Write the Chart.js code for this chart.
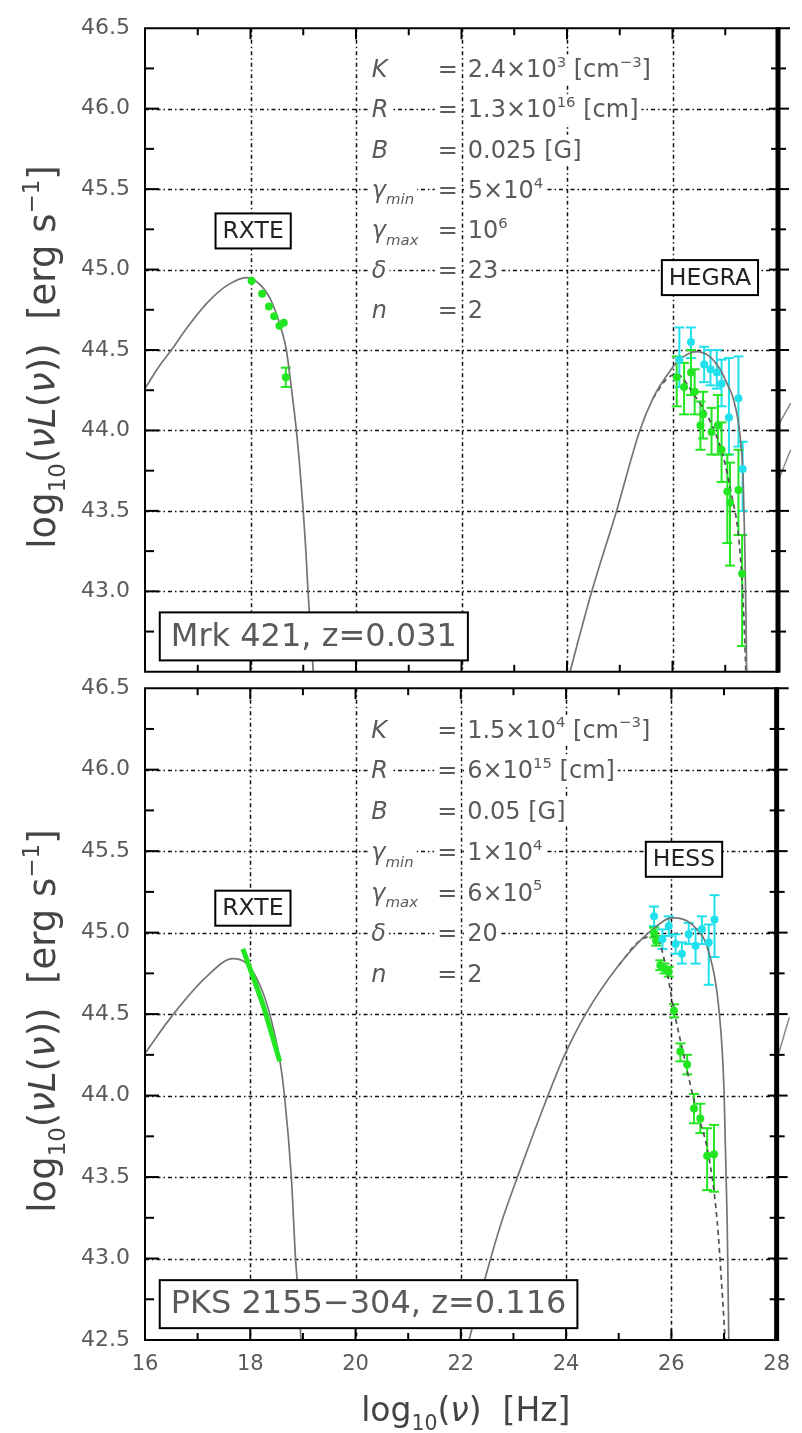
<!DOCTYPE html>
<html>
<head>
<meta charset="utf-8">
<script src="https://cdn.jsdelivr.net/npm/chart.js@4.4.1/dist/chart.umd.min.js"></script>
<style>
  body { margin: 0; background: #fff; width: 802px; height: 1433px; overflow: hidden; position: relative; }
  canvas { position: absolute; left: 0; }
  #topChart { top: 0; }
  #bottomChart { top: 660px; }
</style>
</head>
<body>
<canvas id="topChart" width="802" height="700"></canvas>
<canvas id="bottomChart" width="802" height="773"></canvas>
<script>
const FONT = '"DejaVu Sans", "Liberation Sans", sans-serif';
const TXT = '#5a5a5a';
const GREEN = 'rgb(34,230,34)';
const CYAN = 'rgb(32,224,236)';

// axes
const xTicks = [16, 18, 20, 22, 24, 26, 28];
const xMinor = [17, 18, 19, 20, 21, 22, 23, 24, 25, 26, 27];
const xGrid = [18, 20, 22, 24, 26];
const yTicks = [42.5, 43.0, 43.5, 44.0, 44.5, 45.0, 45.5, 46.0, 46.5];
const yMinor = [42.75, 43.0, 43.25, 43.5, 43.75, 44.0, 44.25, 44.5, 44.75, 45.0, 45.25, 45.5, 45.75, 46.0, 46.25];
const yGrid = [43.0, 43.5, 44.0, 44.5, 45.0, 45.5, 46.0];

// Mrk 421: SSC model curves
const mrkSyncNu = [16.0, 16.25, 16.5, 16.8, 17.17, 17.55, 17.93, 18.2, 18.4, 18.61, 18.68, 18.78, 18.87, 18.94, 19.0, 19.05, 19.09, 19.14, 19.19, 19.22];
const mrkSyncL = [44.26, 44.39, 44.50, 44.64, 44.79, 44.90, 44.95, 44.90, 44.80, 44.60, 44.50, 44.25, 44.00, 43.75, 43.50, 43.25, 43.00, 42.75, 42.50, 42.35];
const mrkIcNu = [24.0, 24.47, 24.94, 25.38, 25.63, 25.89, 26.1, 26.46, 26.7, 26.9, 27.05, 27.15, 27.28, 27.34, 27.37, 27.39, 27.41];
const mrkIcL = [42.43, 43.0, 43.5, 44.0, 44.2, 44.34, 44.43, 44.49, 44.46, 44.38, 44.28, 44.2, 43.97, 43.69, 43.29, 42.9, 42.4];
const mrkAbsNu = [25.63, 25.89, 26.08, 26.39, 26.71, 26.95, 27.12, 27.25, 27.33, 27.37, 27.40];
const mrkAbsL = [44.2, 44.32, 44.35, 44.23, 44.06, 43.85, 43.6, 43.35, 43.0, 42.7, 42.4];

// Mrk 421: RXTE and HEGRA data
const mrkRxteNu = [18.02, 18.22, 18.35, 18.45, 18.55, 18.63, 18.67];
const mrkRxteL = [44.93, 44.85, 44.77, 44.71, 44.65, 44.67, 44.33];
const mrkRxteLo = [44.91, 44.83, 44.75, 44.69, 44.63, 44.65, 44.27];
const mrkRxteHi = [44.95, 44.87, 44.79, 44.73, 44.67, 44.69, 44.39];
const mrkObsNu = [26.08, 26.22, 26.35, 26.42, 26.53, 26.58, 26.74, 26.86, 26.93, 27.04, 27.09, 27.25, 27.32];
const mrkObsL = [44.33, 44.27, 44.36, 44.24, 44.03, 44.10, 43.99, 44.03, 43.88, 43.62, 43.55, 43.63, 43.11];
const mrkObsLo = [44.15, 44.10, 44.22, 44.10, 43.88, 43.95, 43.85, 43.85, 43.68, 43.30, 43.16, 43.35, 42.66];
const mrkObsHi = [44.46, 44.42, 44.50, 44.38, 44.18, 44.24, 44.14, 44.22, 44.05, 43.85, 43.80, 43.88, 43.35];
const mrkDeabsNu = [26.13, 26.35, 26.60, 26.72, 26.84, 26.93, 27.07, 27.25, 27.33];
const mrkDeabsL = [44.44, 44.55, 44.41, 44.38, 44.36, 44.29, 44.08, 44.20, 43.76];
const mrkDeabsLo = [44.27, 44.45, 44.30, 44.28, 44.26, 44.15, 43.85, 43.90, 43.50];
const mrkDeabsHi = [44.64, 44.64, 44.52, 44.50, 44.50, 44.44, 44.45, 44.46, 43.93];

// PKS 2155-304: SSC model curves
const pksSyncNu = [16.0, 16.54, 17.17, 17.67, 17.93, 18.18, 18.37, 18.56, 18.65, 18.78, 18.86, 18.93, 18.97];
const pksSyncL = [44.26, 44.50, 44.73, 44.84, 44.81, 44.68, 44.50, 44.22, 44.00, 43.50, 43.00, 42.70, 42.45];
const pksIcNu = [22.1, 22.48, 22.75, 23.11, 23.62, 23.96, 24.37, 25.0, 25.64, 26.02, 26.39, 26.71, 26.9, 27.0, 27.06, 27.09, 27.1];
const pksIcL = [42.43, 42.9, 43.2, 43.53, 43.97, 44.24, 44.5, 44.8, 45.02, 45.09, 45.05, 44.88, 44.54, 44.04, 43.23, 42.52, 42.3];
const pksAbsNu = [25.0, 25.4, 25.70, 25.89, 26.05, 26.24, 26.46, 26.71, 26.87, 26.96, 27.04];
const pksAbsL = [44.8, 44.95, 44.98, 44.80, 44.52, 44.24, 43.93, 43.63, 43.23, 42.82, 42.4];

// PKS 2155-304: RXTE spectrum and HESS data
const pksRxteNu = [17.86, 18.24, 18.56];
const pksRxteL = [44.90, 44.56, 44.21];
const pksObsNu = [25.67, 25.71, 25.79, 25.87, 25.95, 26.05, 26.17, 26.30, 26.43, 26.55, 26.68, 26.81];
const pksObsL = [45.00, 44.95, 44.80, 44.78, 44.76, 44.52, 44.27, 44.19, 43.92, 43.86, 43.63, 43.64];
const pksObsLo = [44.97, 44.92, 44.77, 44.75, 44.73, 44.48, 44.21, 44.13, 43.83, 43.77, 43.42, 43.41];
const pksObsHi = [45.03, 44.98, 44.83, 44.81, 44.79, 44.56, 44.32, 44.25, 44.01, 43.95, 43.80, 43.82];
const pksDeabsNu = [25.67, 25.83, 25.95, 26.08, 26.20, 26.33, 26.46, 26.58, 26.71, 26.82];
const pksDeabsL = [45.10, 44.96, 45.04, 44.93, 44.87, 44.99, 44.92, 45.02, 44.94, 45.08];
const pksDeabsLo = [45.04, 44.90, 44.98, 44.87, 44.81, 44.93, 44.81, 44.93, 44.68, 44.85];
const pksDeabsHi = [45.16, 45.02, 45.10, 44.99, 44.94, 45.06, 45.02, 45.10, 45.05, 45.23];

// curve pieces of the neighbouring panel, just past the right frame
const mrkSideNu = [[28.02, 28.24], [28.02, 28.24]];
const mrkSideL = [[44.04, 44.17], [43.70, 43.88]];
const pksSideNu = [[28.04, 28.24]];
const pksSideL = [[44.26, 44.48]];

// model parameters, printed as rich text: [text, kind]
const symRows = [
  [['K', 'i']], [['R', 'i']], [['B', 'i']],
  [['γ', 'i'], ['min', 'isub']], [['γ', 'i'], ['max', 'isub']],
  [['δ', 'i']], [['n', 'i']]
];
const mrkValues = [
  [['2.4×10', 'n'], ['3', 'sup'], [' [cm', 'n'], ['−3', 'sup'], [']', 'n']],
  [['1.3×10', 'n'], ['16', 'sup'], [' [cm]', 'n']],
  [['0.025 [G]', 'n']],
  [['5×10', 'n'], ['4', 'sup']],
  [['10', 'n'], ['6', 'sup']],
  [['23', 'n']],
  [['2', 'n']]
];
const pksValues = [
  [['1.5×10', 'n'], ['4', 'sup'], [' [cm', 'n'], ['−3', 'sup'], [']', 'n']],
  [['6×10', 'n'], ['15', 'sup'], [' [cm]', 'n']],
  [['0.05 [G]', 'n']],
  [['1×10', 'n'], ['4', 'sup']],
  [['6×10', 'n'], ['5', 'sup']],
  [['20', 'n']],
  [['2', 'n']]
];
const paramRowsL = [46.25, 46.0, 45.75, 45.5, 45.25, 45.0, 44.75];

function pts(nu, L) {
  return nu.map((v, i) => ({ x: v, y: L[i] }));
}

function curve(nu, L, dashed) {
  return {
    data: pts(nu, L),
    borderColor: dashed ? '#505050' : '#747474',
    borderWidth: 1.7,
    borderDash: dashed ? [5, 4] : [],
    pointRadius: 0,
    cubicInterpolationMode: 'monotone',
    fill: false,
    order: 3
  };
}

function points(nu, L, lo, hi, color, r) {
  return {
    data: pts(nu, L),
    showLine: false,
    pointRadius: r,
    pointStyle: 'circle',
    backgroundColor: color,
    borderColor: color,
    borderWidth: 0,
    errLo: lo,
    errHi: hi,
    order: 1
  };
}

function seg(ctx, x0, y0, x1, y1) {
  ctx.beginPath();
  ctx.moveTo(x0, y0);
  ctx.lineTo(x1, y1);
  ctx.stroke();
}

// measure and draw a run of text pieces with sub/superscripts
function richSpecs(ctx, parts, size) {
  return parts.map(([t, k]) => {
    const small = k === 'sup' || k === 'sub' || k === 'isub';
    const fs = small ? size * 0.62 : size;
    const font = (k === 'i' || k === 'isub' ? 'italic ' : '') + fs + 'px ' + FONT;
    const dy = k === 'sup' ? -size * 0.42 : small ? size * 0.28 : 0;
    ctx.font = font;
    return { t, font, dy, w: ctx.measureText(t).width };
  });
}

function drawRich(ctx, parts, x, y, size, align, bg) {
  const specs = richSpecs(ctx, parts, size);
  const total = specs.reduce((s, p) => s + p.w, 0);
  let cx = align === 'center' ? x - total / 2 : x;
  if (bg) {
    ctx.fillStyle = '#fff';
    ctx.fillRect(cx - 3, y - size * 0.95, total + 6, size * 1.25);
  }
  ctx.fillStyle = ctx._richColor || TXT;
  ctx.textAlign = 'left';
  ctx.textBaseline = 'alphabetic';
  specs.forEach(p => {
    ctx.font = p.font;
    ctx.fillText(p.t, cx, y + p.dy);
    cx += p.w;
  });
  return total;
}

function drawBox(ctx, text, x, y, size, align, color, padX, h) {
  ctx.font = size + 'px ' + FONT;
  const w = ctx.measureText(text).width + 2 * padX;
  const left = align === 'left' ? x : x - w / 2;
  const top = y - h / 2;
  ctx.fillStyle = '#fff';
  ctx.fillRect(left, top, w, h);
  ctx.lineWidth = 2;
  ctx.strokeStyle = '#000';
  ctx.strokeRect(left, top, w, h);
  ctx.fillStyle = color;
  ctx.textAlign = 'left';
  ctx.textBaseline = 'middle';
  ctx.fillText(text, left + padX, y + 1);
}

const yTitle = [['log', 'n'], ['10', 'sub'], ['(', 'n'], ['ν', 'i'], ['L', 'i'], ['(', 'n'], ['ν', 'i'], ['))', 'n'], ['  [erg s', 'n'], ['−1', 'sup'], [']', 'n']];
const xTitle = [['log', 'n'], ['10', 'sub'], ['(', 'n'], ['ν', 'i'], [')', 'n'], ['  [Hz]', 'n']];

function decorPlugin(panel) {
  return {
    id: 'decor',
    beforeDatasetsDraw(chart) {
      const { ctx, chartArea: a, scales: { x, y } } = chart;
      ctx.save();
      ctx.strokeStyle = '#111';
      ctx.lineWidth = 1.5;
      ctx.setLineDash([4, 3, 1.5, 3]);
      xGrid.forEach(v => {
        const px = Math.round(x.getPixelForValue(v)) + 0.5;
        seg(ctx, px, a.top, px, a.bottom);
      });
      yGrid.forEach(v => {
        const py = Math.round(y.getPixelForValue(v)) + 0.5;
        seg(ctx, a.left, py, a.right, py);
      });
      ctx.setLineDash([]);
      // error bars sit underneath the markers
      chart.data.datasets.forEach((ds, i) => {
        if (!ds.errLo) return;
        const meta = chart.getDatasetMeta(i);
        ctx.strokeStyle = ds.backgroundColor;
        ctx.lineWidth = 2;
        meta.data.forEach((pt, j) => {
          const y0 = y.getPixelForValue(ds.errLo[j]);
          const y1 = y.getPixelForValue(ds.errHi[j]);
          seg(ctx, pt.x, y0, pt.x, y1);
          if (Math.abs(y1 - y0) > 8) {
            seg(ctx, pt.x - 5, y0, pt.x + 5, y0);
            seg(ctx, pt.x - 5, y1, pt.x + 5, y1);
          }
        });
      });
      ctx.restore();
    },
    afterDatasetsDraw(chart) {
      const { ctx, chartArea: a, scales: { x, y } } = chart;
      ctx.save();

      // parameter table
      const sz = 24;
      paramRowsL.forEach((L, i) => {
        const base = y.getPixelForValue(L) + sz * 0.36;
        drawRich(ctx, symRows[i], x.getPixelForValue(20.3), base, sz, 'left', true);
        drawRich(ctx, [['=', 'n']], x.getPixelForValue(21.55), base, sz, 'left', true);
        drawRich(ctx, panel.values[i], x.getPixelForValue(22.12), base, sz, 'left', true);
      });

      // instrument tags and source name
      panel.tags.forEach(t => {
        drawBox(ctx, t.text, x.getPixelForValue(t.nu), y.getPixelForValue(t.L), 23.5, 'center', '#222', 7, 35);
      });
      drawBox(ctx, panel.name, x.getPixelForValue(16.28), y.getPixelForValue(42.72), 32, 'left', TXT, 11, 48);

      // neighbouring panel's curve just right of the frame
      ctx.strokeStyle = '#888';
      ctx.lineWidth = 1.5;
      panel.sideNu.forEach((nu, k) => {
        ctx.beginPath();
        nu.forEach((v, j) => {
          const px = x.getPixelForValue(v), py = y.getPixelForValue(panel.sideL[k][j]);
          j ? ctx.lineTo(px, py) : ctx.moveTo(px, py);
        });
        ctx.stroke();
      });

      // frame
      ctx.strokeStyle = '#000';
      ctx.lineWidth = 2;
      seg(ctx, a.left, a.top, a.left, a.bottom);
      seg(ctx, a.left - 1, a.top, a.right + 12, a.top);
      seg(ctx, a.left - 1, a.bottom, a.right, a.bottom);
      // inward ticks on the x axes
      xMinor.forEach(v => {
        const px = x.getPixelForValue(v);
        const len = v % 2 === 0 ? 11 : 7;
        seg(ctx, px, a.top, px, a.top + len);
        seg(ctx, px, a.bottom, px, a.bottom - len);
      });
      // y ticks: inward on the left, crossing the right frame
      yMinor.forEach(v => {
        const py = y.getPixelForValue(v);
        const major = Math.abs(v * 2 - Math.round(v * 2)) < 1e-6;
        seg(ctx, a.left, py, a.left + (major ? 14 : 9), py);
        seg(ctx, a.right - (major ? 9 : 7), py, a.right + (major ? 11 : 8), py);
      });
      ctx.lineWidth = 5;
      seg(ctx, a.right, a.top - 1, a.right, a.bottom + 1);
      ctx.restore();
    },
    afterDraw(chart) {
      const { ctx, chartArea: a } = chart;
      ctx.save();
      ctx._richColor = '#444';
      ctx.translate(55, (a.top + a.bottom) / 2 + 7);
      ctx.rotate(-Math.PI / 2);
      drawRich(ctx, yTitle, 0, 0, 37, 'center', false);
      ctx.restore();
      if (panel.xTitle) {
        ctx.save();
        ctx._richColor = '#444';
        drawRich(ctx, xTitle, (a.left + a.right) / 2 + 5, a.bottom + 81, 33, 'center', false);
        ctx.restore();
      }
    }
  };
}

function makePanel(id, panel) {
  return new Chart(document.getElementById(id), {
    type: 'line',
    data: { datasets: panel.datasets },
    options: {
      responsive: false,
      animation: false,
      events: [],
      devicePixelRatio: 1,
      layout: { padding: { left: 0, top: 20, right: 24, bottom: 0 } },
      plugins: { legend: { display: false }, tooltip: { enabled: false } },
      scales: {
        x: {
          type: 'linear', min: 16, max: 28,
          grid: { display: false, drawTicks: false },
          border: { display: false },
          ticks: {
            display: panel.xTitle, stepSize: 2, autoSkip: false, maxRotation: 0, padding: 12,
            color: TXT, font: { family: FONT, size: 21 },
            callback: v => xTicks.includes(v) ? String(v) : ''
          },
          afterFit: s => { s.height = panel.xHeight; }
        },
        y: {
          type: 'linear', min: 42.5, max: 46.5,
          grid: { display: false, drawTicks: false },
          border: { display: false },
          ticks: {
            stepSize: 0.5, autoSkip: false, padding: 15,
            color: TXT, font: { family: FONT, size: 22 },
            callback: v => (!yTicks.includes(v) || (panel.hideBottom && v === 42.5)) ? '' : v.toFixed(1)
          },
          afterFit: s => { s.width = 145; }
        }
      }
    },
    plugins: [decorPlugin(panel)]
  });
}

makePanel('topChart', {
  name: 'Mrk 421, z=0.031',
  values: mrkValues,
  tags: [{ text: 'RXTE', nu: 18.05, L: 45.24 }, { text: 'HEGRA', nu: 26.71, L: 44.95 }],
  sideNu: mrkSideNu, sideL: mrkSideL,
  hideBottom: true, xTitle: false, xHeight: 20,
  datasets: [
    points(mrkRxteNu, mrkRxteL, mrkRxteLo, mrkRxteHi, GREEN, 4),
    points(mrkDeabsNu, mrkDeabsL, mrkDeabsLo, mrkDeabsHi, CYAN, 4),
    points(mrkObsNu, mrkObsL, mrkObsLo, mrkObsHi, GREEN, 4),
    curve(mrkSyncNu, mrkSyncL, false),
    curve(mrkIcNu, mrkIcL, false),
    curve(mrkAbsNu, mrkAbsL, true)
  ]
});

makePanel('bottomChart', {
  name: 'PKS 2155−304, z=0.116',
  values: pksValues,
  tags: [{ text: 'RXTE', nu: 18.05, L: 45.15 }, { text: 'HESS', nu: 26.24, L: 45.45 }],
  sideNu: pksSideNu, sideL: pksSideL,
  hideBottom: false, xTitle: true, xHeight: 93,
  datasets: [
    {
      data: pts(pksRxteNu, pksRxteL),
      borderColor: GREEN, borderWidth: 5, pointRadius: 0, borderCapStyle: 'butt',
      tension: 0, fill: false, order: 1
    },
    points(pksDeabsNu, pksDeabsL, pksDeabsLo, pksDeabsHi, CYAN, 4),
    points(pksObsNu, pksObsL, pksObsLo, pksObsHi, GREEN, 4),
    curve(pksSyncNu, pksSyncL, false),
    curve(pksIcNu, pksIcL, false),
    curve(pksAbsNu, pksAbsL, true)
  ]
});
</script>
</body>
</html>
